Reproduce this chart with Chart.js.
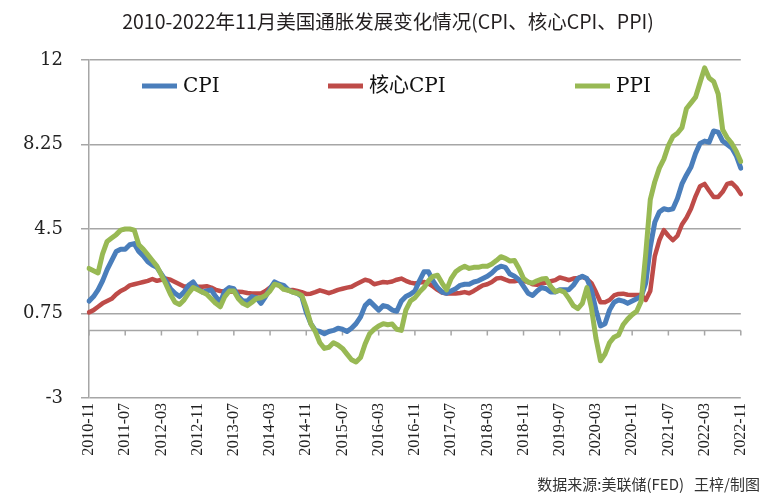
<!DOCTYPE html>
<html><head><meta charset="utf-8">
<script src="https://cdn.jsdelivr.net/npm/chart.js@4.4.1/dist/chart.umd.min.js"></script>
<style>html,body{margin:0;padding:0;background:#fff}</style>
</head><body>
<canvas id="c" width="765" height="501"></canvas>
<script>
const titleText = '2010-2022年11月美国通胀发展变化情况(CPI、核心CPI、PPI)';
const sourceText = '数据来源:美联储(FED)   王梓/制图';
const seriesNames = ['CPI', '核心CPI', 'PPI'];

// monthly categories 2010-11 .. 2022-11
const months = [];
for (let y = 2010, m = 11; months.length < 145; m++) {
  if (m > 12) { m = 1; y++; }
  months.push(y + '-' + String(m).padStart(2, '0'));
}

const xTickLabels = ['2010-11','2011-07','2012-03','2012-11','2013-07','2014-03','2014-11','2015-07','2016-03','2016-11','2017-07','2018-03','2018-11','2019-07','2020-03','2020-11','2021-07','2022-03','2022-11'];
const yTickValues = [-3, 0.75, 4.5, 8.25, 12];

const cpi = [
 1.3,1.5,1.8,2.2,2.7,3.1,3.5,3.6,3.6,3.8,3.85,3.5,3.3,3.05,2.9,2.8,2.5,2.2,1.85,1.65,
 1.5,1.7,2.0,2.15,1.85,1.7,1.75,1.8,1.5,1.25,1.75,1.9,1.85,1.5,1.3,1.3,1.5,1.45,1.2,1.5,
 1.85,2.15,2.05,2.0,1.8,1.7,1.65,1.5,0.8,0.3,0.0,-0.05,-0.15,-0.05,0.0,0.1,0.05,-0.05,0.1,0.3,
 0.6,1.1,1.3,1.1,0.9,1.1,1.05,0.9,0.85,1.3,1.5,1.6,1.75,2.2,2.6,2.6,2.2,1.9,1.7,1.65,
 1.75,1.85,2.0,2.05,2.05,2.15,2.2,2.3,2.4,2.55,2.75,2.85,2.8,2.5,2.4,2.25,1.95,1.65,1.55,1.75,
 1.9,1.85,1.7,1.7,1.8,1.8,1.8,2.0,2.3,2.4,2.3,1.8,0.9,0.2,0.3,0.9,1.25,1.35,1.3,1.2,
 1.3,1.4,1.5,2.1,3.7,4.8,5.25,5.4,5.35,5.4,5.85,6.5,6.9,7.25,7.85,8.3,8.4,8.35,8.85,8.8,
 8.4,8.25,8.1,7.75,7.2
];
const coreCpi = [
 0.8,0.9,1.05,1.2,1.3,1.4,1.6,1.75,1.85,2.0,2.05,2.1,2.15,2.2,2.28,2.2,2.25,2.3,2.25,2.15,
 2.05,1.95,1.95,1.95,1.94,1.94,1.96,1.9,1.8,1.75,1.72,1.71,1.71,1.71,1.7,1.66,1.64,1.64,1.64,1.75,
 1.9,2.05,2.0,1.85,1.78,1.79,1.75,1.7,1.62,1.63,1.7,1.78,1.72,1.65,1.72,1.8,1.85,1.9,1.94,2.05,
 2.15,2.25,2.2,2.05,2.1,2.15,2.13,2.17,2.25,2.3,2.2,2.12,2.08,2.12,2.15,2.08,1.95,1.8,1.68,1.64,
 1.64,1.64,1.66,1.7,1.65,1.75,1.88,2.0,2.05,2.15,2.3,2.33,2.25,2.18,2.18,2.22,2.2,2.15,2.05,2.02,
 2.08,2.12,2.18,2.23,2.35,2.3,2.23,2.3,2.33,2.38,2.28,2.1,1.7,1.25,1.25,1.35,1.55,1.62,1.63,1.58,
 1.57,1.57,1.57,1.35,1.75,3.3,4.0,4.45,4.2,4.0,4.2,4.7,5.0,5.4,5.95,6.4,6.5,6.2,5.92,5.92,
 6.15,6.5,6.55,6.35,6.05
];
const ppi = [
 2.75,2.65,2.55,3.4,3.95,4.1,4.25,4.45,4.5,4.5,4.45,3.8,3.6,3.35,3.1,2.85,2.45,2.05,1.6,1.25,
 1.15,1.35,1.65,1.9,1.8,1.7,1.6,1.4,1.2,1.05,1.5,1.75,1.75,1.4,1.2,1.1,1.25,1.42,1.45,1.55,
 1.75,2.05,2.0,1.82,1.78,1.7,1.65,1.55,1.0,0.3,-0.05,-0.55,-0.8,-0.75,-0.55,-0.65,-0.8,-1.05,-1.3,-1.4,
 -1.2,-0.6,-0.15,0.05,0.2,0.3,0.25,0.28,0.05,0.0,0.9,1.3,1.45,1.7,1.9,2.2,2.4,2.45,2.1,1.8,
 2.3,2.6,2.75,2.85,2.75,2.8,2.8,2.85,2.85,2.95,3.1,3.27,3.2,3.08,3.1,2.75,2.3,2.15,2.1,2.2,
 2.28,2.3,1.95,1.72,1.78,1.7,1.42,1.1,0.97,1.2,1.9,1.0,-0.35,-1.35,-1.05,-0.55,-0.3,-0.2,0.25,0.5,
 0.7,0.85,1.3,3.4,5.8,6.6,7.2,7.6,8.2,8.6,8.75,9.0,9.85,10.1,10.35,11.0,11.65,11.2,11.05,10.5,
 8.9,8.55,8.3,7.95,7.5
];

const colors = ['#4a7ebb', '#be4b48', '#98b954'];
const gridColor = '#a6a6a6';

const zeroAxis = {
  id: 'zeroAxis',
  beforeDatasetsDraw(chart) {
    const { ctx, chartArea, scales: { x, y } } = chart;
    const y0 = y.getPixelForValue(0);
    ctx.save();
    ctx.strokeStyle = gridColor;
    ctx.lineWidth = 1.5;
    ctx.beginPath();
    ctx.moveTo(chartArea.left, y0);
    ctx.lineTo(chartArea.right, y0);
    xTickLabels.forEach(l => {
      const px = x.getPixelForValue(months.indexOf(l));
      ctx.moveTo(px, y0);
      ctx.lineTo(px, y0 + 5);
    });
    ctx.stroke();
    ctx.restore();
  }
};

const inLegend = {
  id: 'inLegend',
  afterDraw(chart) {
    const { ctx, chartArea } = chart;
    const offsets = [53, 239, 486];
    const yy = chartArea.top + 26;
    ctx.save();
    chart.data.datasets.forEach((ds, i) => {
      const x0 = chartArea.left + offsets[i];
      ctx.strokeStyle = ds.borderColor;
      ctx.lineWidth = 5;
      ctx.beginPath();
      ctx.moveTo(x0, yy);
      ctx.lineTo(x0 + 35, yy);
      ctx.stroke();
      ctx.fillStyle = '#111';
      ctx.font = '20px "DejaVu Serif", "Noto Sans CJK SC"';
      ctx.textBaseline = 'middle';
      ctx.textAlign = 'left';
      ctx.fillText(ds.label, x0 + 41, yy + 1);
    });
    ctx.restore();
  }
};

new Chart(document.getElementById('c'), {
  type: 'line',
  data: {
    labels: months,
    datasets: [
      { label: seriesNames[0], data: cpi, borderColor: colors[0], borderWidth: 5, order: 1 },
      { label: seriesNames[1], data: coreCpi, borderColor: colors[1], borderWidth: 4.5, order: 2 },
      { label: seriesNames[2], data: ppi, borderColor: colors[2], borderWidth: 5, order: 0 }
    ]
  },
  options: {
    responsive: false,
    animation: false,
    devicePixelRatio: 1,
    layout: { padding: { left: 16, right: 5, top: 0, bottom: 0 } },
    elements: {
      point: { radius: 0 },
      line: { tension: 0, borderJoinStyle: 'round', borderCapStyle: 'round', fill: false }
    },
    plugins: {
      legend: { display: false },
      tooltip: { enabled: false },
      title: {
        display: true, text: titleText, color: '#231f20',
        font: { family: '"Noto Sans CJK SC"', size: 19.5, weight: 'normal', lineHeight: 1.2 },
        padding: { top: 10, bottom: 26.6 }
      },
      subtitle: {
        display: true, position: 'bottom', align: 'end', text: sourceText, color: '#333',
        font: { family: '"Noto Sans CJK SC"', size: 15, weight: 'normal', lineHeight: 1.2 },
        padding: { top: 3, bottom: 8 }
      }
    },
    scales: {
      x: {
        type: 'category',
        offset: false,
        grid: { display: false, drawTicks: false },
        border: { display: false },
        ticks: {
          autoSkip: false, maxRotation: 90, minRotation: 90, padding: 5, color: '#222',
          font: { family: '"Liberation Serif"', size: 16 },
          callback(v) { const l = this.getLabelForValue(v); return xTickLabels.includes(l) ? l : ''; }
        },
        afterFit(s) { s.height = 74; }
      },
      y: {
        position: 'left',
        min: -3, max: 12,
        afterBuildTicks(s) { s.ticks = yTickValues.map(v => ({ value: v })); },
        afterFit(s) { s.width = 73; },
        grid: { color: gridColor, lineWidth: 1.5, drawTicks: true, tickLength: 8 },
        border: { display: true, color: gridColor, width: 1.5 },
        ticks: {
          padding: 18, color: '#222',
          font: { family: '"DejaVu Serif"', size: 18 },
          callback: v => String(v)
        }
      },
      y2: {
        position: 'right',
        grid: { display: false, drawTicks: false },
        border: { display: false },
        ticks: { display: false },
        afterFit(s) { s.width = 15; }
      }
    }
  },
  plugins: [zeroAxis, inLegend]
});
</script>
</body></html>
